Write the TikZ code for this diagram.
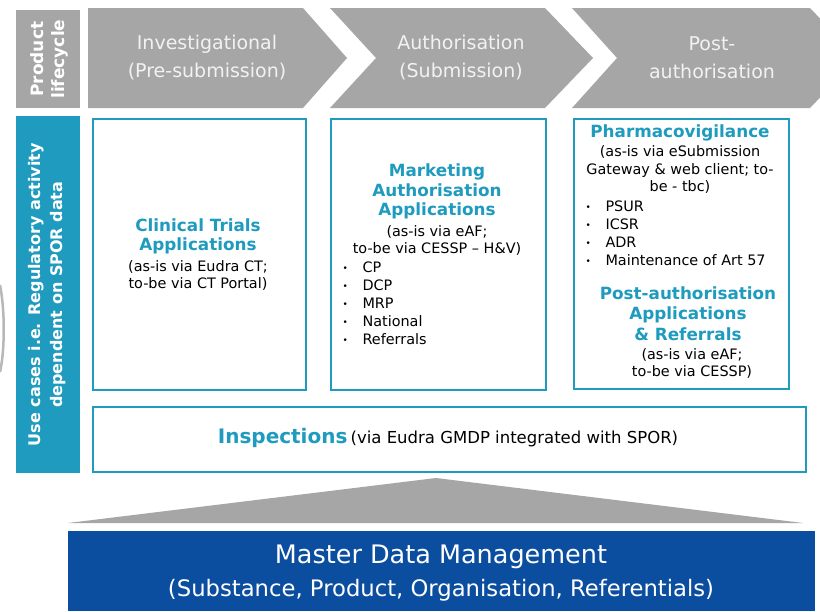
\documentclass[tikz,border=0pt]{standalone}
\usepackage{fontspec}
\setmainfont{DejaVu Sans}
\definecolor{tealc}{HTML}{1E9BBE}
\definecolor{greyc}{HTML}{A6A6A6}
\definecolor{bluec}{HTML}{0B4EA0}
\definecolor{lighttxt}{HTML}{F2F2F2}
\tikzset{
  chev/.style={fill=greyc, draw=none},
  chevtext/.style={text=lighttxt, align=center, font=\fontsize{19}{28}\selectfont},
  sidebox/.style={anchor=north west, inner sep=0pt},
  sidetext/.style={text=white, align=center, rotate=90, font=\bfseries\fontsize{17}{21}\selectfont},
  ubox/.style={draw=tealc, line width=2pt, fill=white, anchor=north west, inner sep=0pt},
  hd/.style={text=tealc, align=center, font=\bfseries\fontsize{16.8}{19.5}\selectfont},
  sm/.style={text=black, align=center, font=\fontsize{14.4}{17.5}\selectfont},
  blist/.style={text=black, align=left, anchor=west, font=\fontsize{14.4}{18}\selectfont},
  mdtext/.style={text=white, inner sep=0pt},
}
\newcommand{\bul}{\makebox[20pt][l]{\fontsize{9}{9}\selectfont\raisebox{1pt}{•}}}
\begin{document}
\begin{tikzpicture}[x=1pt,y=-1pt]
\useasboundingbox (0,0) rectangle (820,611);
\fill[white] (0,0) rectangle (820,611);
\begin{scope}
\clip (0,0) rectangle (820,611);
% chevrons
\fill[chev] (88,8) -- (303,8) -- (347,58) -- (303,108) -- (88,108) -- cycle;
\fill[chev] (330,8) -- (545,8) -- (593,58) -- (545,108) -- (330,108) -- (376,58) -- cycle;
\fill[chev] (572,8) -- (810,8) -- (858,58) -- (810,108) -- (572,108) -- (617,58) -- cycle;
% left edge arc
\draw[greyc!80, line width=2.5pt] (0,285) .. controls (5,310) and (5,350) .. (0,372);
% master data funnel
\fill[greyc] (68,523) -- (436,478) -- (803,523) -- cycle;
\end{scope}

\node[chevtext] (c1) at (207,58) {Investigational\\(Pre-submission)};
\node[chevtext] (c2) at (461,58) {Authorisation\\(Submission)};
\node[chevtext] (c3) at (712,58) {Post-\\authorisation};

\node[sidebox, fill=greyc, minimum width=64pt, minimum height=98pt] (pl) at (16,10) {};
\node[sidetext] (plt) at ([xshift=1pt]pl.center) {Product\\lifecycle};
\node[sidebox, fill=tealc, minimum width=64pt, minimum height=357pt] (uc) at (16,116) {};
\node[sidetext, font=\bfseries\fontsize{16}{22}\selectfont] (uct) at ([xshift=-1pt]uc.center) {Use cases i.e. Regulatory activity\\dependent on SPOR data};

% use-case boxes
\node[ubox, minimum width=213pt, minimum height=271pt] (b1) at (92,118) {};
\node[ubox, minimum width=215pt, minimum height=271pt] (b2) at (330,118) {};
\node[ubox, minimum width=215pt, minimum height=270pt] (b3) at (573,118) {};
\node[ubox, minimum width=713pt, minimum height=65pt] (b4) at (92,406) {};

% box 1
\node[hd] (h1) at (198,236.5) {Clinical Trials\\Applications};
\node[sm] (s1) at (198,275.5) {(as-is via Eudra CT;\\to-be via CT Portal)};

% box 2
\node[hd] (h2) at (437,191.5) {Marketing\\Authorisation\\Applications};
\node[sm] (s2) at (437,240.5) {(as-is via eAF;\\to-be via CESSP – H\&V)};
\node[blist] (l2) at (339,303) {\bul CP\\\bul DCP\\\bul MRP\\\bul National\\\bul Referrals};

% box 3
\node[hd] (h3) at (680,133) {Pharmacovigilance};
\node[sm] (s3) at (680,169.5) {(as-is via eSubmission\\Gateway \& web client; to-\\be - tbc)};
\node[blist] (l3) at (582,233) {\bul PSUR\\\bul ICSR\\\bul ADR\\\bul Maintenance of Art 57};
\node[hd, font=\bfseries\fontsize{16.8}{20.5}\selectfont] (h4) at (688,313.5) {Post-authorisation\\Applications\\\& Referrals};
\node[sm] (s4) at (692,363.5) {(as-is via eAF;\\to-be via CESSP)};

% inspections
\node[text=black] (ins) at (448,438) {{\color{tealc}\bfseries\fontsize{20}{22}\selectfont Inspections} \fontsize{16.5}{18}\selectfont(via Eudra GMDP integrated with SPOR)};

% master data
\node[fill=bluec, anchor=north west, inner sep=0pt, minimum width=747pt, minimum height=80pt] (mdbox) at (68,531) {};
\node[mdtext, font=\fontsize{25.5}{30}\selectfont] (md1) at (441,557) {Master Data Management};
\node[mdtext, font=\fontsize{22.7}{28}\selectfont] (md2) at (441,590) {(Substance, Product, Organisation, Referentials)};
\end{tikzpicture}
\end{document}
